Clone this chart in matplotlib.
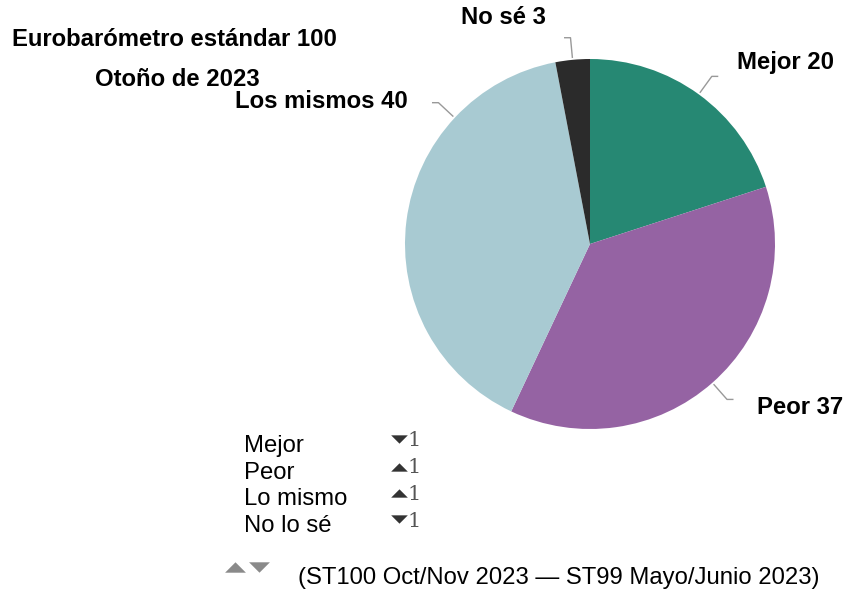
import numpy as np
import matplotlib
matplotlib.use("Agg")
import matplotlib.pyplot as plt

# data
labels = ["Mejor", "Peor", "Los mismos", "No sé"]
values = [20, 37, 40, 3]
colors = ["#268873", "#9563a3", "#a8cad2", "#2b2b2b"]

change_labels = ["Mejor", "Peor", "Lo mismo", "No lo sé"]
change_dirs = ["down", "up", "up", "down"]
change_values = [1, 1, 1, 1]

title_lines = ["Eurobarómetro estándar 100", "Otoño de 2023"]
footnote = "(ST100 Oct/Nov 2023 \u2014 ST99 Mayo/Junio 2023)"

W, H = 859, 596
plt.rcParams['font.family'] = ['Liberation Sans', 'DejaVu Sans']

fig = plt.figure(figsize=(W / 100, H / 100), dpi=100)


def fx(px):
    return px / W


def fy(py):
    return 1 - py / H


# flat triangles like the original's arrows
UP = [(-1, -0.5), (1, -0.5), (0, 0.5), (-1, -0.5)]
DOWN = [(-1, 0.5), (1, 0.5), (0, -0.5), (-1, 0.5)]


def tri(px, py, d, size, color):
    fig.lines.append(plt.Line2D([fx(px)], [fy(py)], marker=UP if d == 'up' else DOWN,
                                markersize=size, color=color, markeredgewidth=0,
                                transform=fig.transFigure))


# pie axes, centre (590, 244), radius 185 px
cx, cy, r = 590, 244, 185
ax = fig.add_axes([fx(cx - r), fy(cy + r), 2 * r / W, 2 * r / H])
wedges, _ = ax.pie(values, colors=colors, startangle=90, counterclock=False,
                   wedgeprops={'linewidth': 0})
ax.set_xlim(-1, 1)
ax.set_ylim(-1, 1)
ax.set_aspect('equal')
ax.axis('off')

# leader lines
mid_angles = [(w.theta1 + w.theta2) / 2 for w in wedges]
mid_angles[2] = 137  # label for "Los mismos" sits higher
for ang in mid_angles:
    t = np.radians(ang)
    x0, y0 = 1.01 * np.cos(t), 1.01 * np.sin(t)
    x1, y1 = 1.12 * np.cos(t), 1.12 * np.sin(t)
    dx = 0.035 if np.cos(t) > 0 else -0.035
    ax.plot([x0, x1, x1 + dx], [y0, y1, y1], color="#999999", lw=1,
            clip_on=False, solid_capstyle='butt')

# slice labels
label_pos = [(737, 63), (757, 408), (408, 101), (461, 18)]
label_ha = ["left", "left", "right", "left"]
for name, v, (px, py), ha in zip(labels, values, label_pos, label_ha):
    fig.text(fx(px), fy(py), f"{name} {v}", fontsize=17.2, fontweight='bold',
             ha=ha, va='center')

# title
fig.text(fx(12), fy(40), title_lines[0], fontsize=17.2, fontweight='bold',
         ha='left', va='center')
fig.text(fx(95), fy(80), title_lines[1], fontsize=17.2, fontweight='bold',
         ha='left', va='center')

# change table
for i, (name, d, v) in enumerate(zip(change_labels, change_dirs, change_values)):
    py = 446 + i * 26.7
    fig.text(fx(244), fy(py), name, fontsize=17.2, ha='left', va='center')
    tri(399, py - 7 if d == 'down' else py - 6, d, 12, "#333333")
    fig.text(fx(407), fy(py - 5), str(v), fontsize=15, color="#555555",
             family='DejaVu Serif', ha='left', va='center')

# footnote
tri(235, 567, 'up', 15, "#8a8a8a")
tri(259, 567, 'down', 15, "#8a8a8a")
fig.text(fx(298), fy(578), footnote, fontsize=17.2, ha='left', va='center')

fig.savefig("out.png", dpi=100)
